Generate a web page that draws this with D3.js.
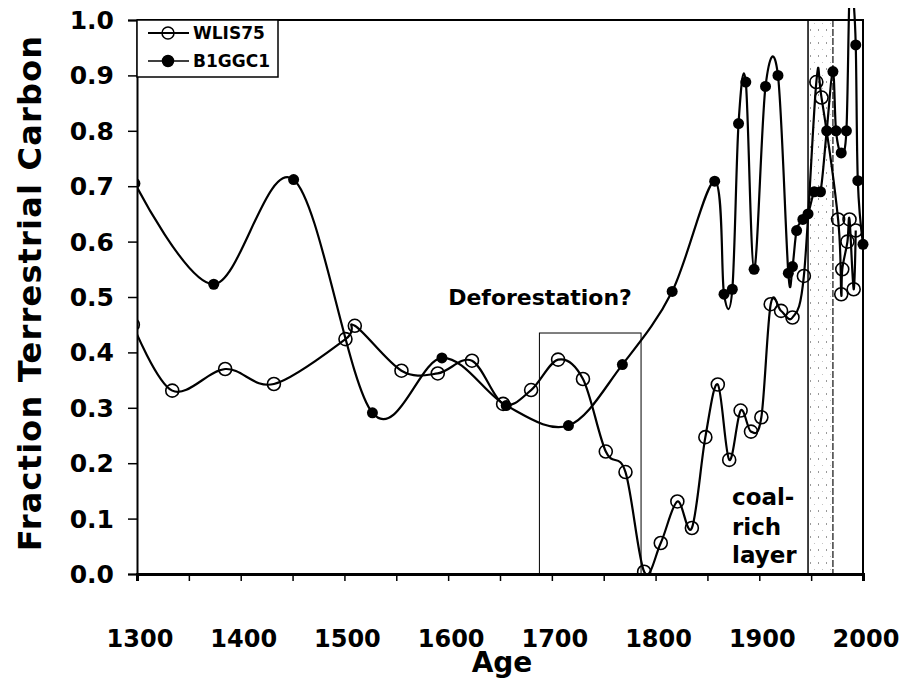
<!DOCTYPE html>
<html>
<head>
<meta charset="utf-8">
<script src="https://cdn.jsdelivr.net/npm/d3@7/dist/d3.min.js"></script>
<style>
  html, body { margin: 0; padding: 0; background: #fff; }
  svg text { font-family: "DejaVu Sans", Verdana, sans-serif; font-weight: bold; fill: #000; }
</style>
</head>
<body>
<svg id="chart" width="906" height="679"></svg>
<script>
// Core WLIS75 (open circles): age and fraction of terrestrial carbon
const wlisYears = [1296, 1334, 1385, 1432, 1501, 1510, 1555, 1590, 1623, 1653, 1680, 1706, 1730, 1752, 1771, 1789,
  1805, 1821, 1835, 1848, 1860, 1871, 1882, 1892, 1902, 1911, 1921, 1932, 1943, 1955, 1960, 1976, 1979,
  1980, 1985, 1987, 1991, 1993];
const wlisValues = [0.45, 0.331, 0.37, 0.343, 0.424, 0.448, 0.367, 0.362, 0.385, 0.307, 0.332, 0.387, 0.352, 0.221, 0.184, 0.004,
  0.056, 0.131, 0.083, 0.247, 0.342, 0.206, 0.295, 0.257, 0.283, 0.487, 0.475, 0.463, 0.538, 0.888, 0.86, 0.64, 0.505,
  0.55, 0.60, 0.64, 0.514, 0.62];

// Core B1GGC1 (filled circles)
const bYears = [1298, 1374, 1451, 1527, 1594, 1656, 1716, 1768, 1816, 1857, 1866, 1874, 1880, 1887, 1895, 1906,
  1918, 1928, 1932, 1936, 1942, 1947, 1953, 1959, 1965, 1971, 1974, 1979, 1984, 1987, 1990, 1993, 1995, 2000];
const bValues = [0.705, 0.523, 0.712, 0.291, 0.39, 0.304, 0.268, 0.378, 0.51, 0.709, 0.505, 0.514, 0.813, 0.888, 0.55, 0.88,
  0.90, 0.543, 0.555, 0.62, 0.64, 0.65, 0.69, 0.69, 0.80, 0.907, 0.80, 0.76, 0.80, 1.05, 1.05, 0.955, 0.71, 0.595];

const xTicks = [1300, 1400, 1500, 1600, 1700, 1800, 1900, 2000];
const yTicks = [0, 0.1, 0.2, 0.3, 0.4, 0.5, 0.6, 0.7, 0.8, 0.9, 1.0];

// Annotated spans
const deforestSpan = [1688, 1786];
const deforestTop = 0.435;
const coalSpan = [1947, 1971];

const svg = d3.select("#chart");
const plotL = 137, plotR = 863, plotT = 20, plotB = 574;

const x = d3.scaleLinear().domain([1300, 2000]).range([plotL, plotR]);
const y = d3.scaleLinear().domain([0, 1]).range([plotB, plotT]);

const defs = svg.append("defs");
defs.append("clipPath").attr("id", "plotClip")
  .append("rect").attr("x", plotL).attr("y", 8).attr("width", plotR - plotL + 6).attr("height", plotB - 8);
const pat = defs.append("pattern").attr("id", "stipple").attr("patternUnits", "userSpaceOnUse")
  .attr("width", 8).attr("height", 13);
pat.append("rect").attr("x", 2).attr("y", 3).attr("width", 1).attr("height", 2).attr("fill", "#9a9a9a");
pat.append("rect").attr("x", 6).attr("y", 10).attr("width", 1).attr("height", 1).attr("fill", "#c4c4c4");

// Coal-rich layer band
svg.append("rect")
  .attr("x", x(coalSpan[0])).attr("y", plotT)
  .attr("width", x(coalSpan[1]) - x(coalSpan[0])).attr("height", plotB - plotT)
  .attr("fill", "url(#stipple)");
svg.append("line").attr("x1", x(coalSpan[0])).attr("x2", x(coalSpan[0]))
  .attr("y1", plotT).attr("y2", plotB).attr("stroke", "#000").attr("stroke-width", 1.5);
svg.append("line").attr("x1", x(coalSpan[1])).attr("x2", x(coalSpan[1]))
  .attr("y1", plotT).attr("y2", plotB).attr("stroke", "#222").attr("stroke-width", 1.3)
  .attr("stroke-dasharray", "7,2");

// Deforestation box
svg.append("rect")
  .attr("x", x(deforestSpan[0])).attr("y", y(deforestTop))
  .attr("width", x(deforestSpan[1]) - x(deforestSpan[0])).attr("height", y(0) - y(deforestTop))
  .attr("fill", "none").attr("stroke", "#000").attr("stroke-width", 1);

// Plot frame (top and right)
svg.append("path")
  .attr("d", `M${plotL},${plotT}H${plotR}V${plotB}`)
  .attr("fill", "none").attr("stroke", "#000").attr("stroke-width", 2);

// Series
const plot = svg.append("g").attr("clip-path", "url(#plotClip)");
const line = d3.line().x(d => x(d[0])).y(d => y(d[1])).curve(d3.curveCatmullRom.alpha(0));

const wlis = wlisYears.map((yr, i) => [yr, wlisValues[i]]);
const bgg = bYears.map((yr, i) => [yr, bValues[i]]);

plot.append("path").datum(bgg).attr("d", line)
  .attr("fill", "none").attr("stroke", "#000").attr("stroke-width", 2.2);
plot.append("path").datum(wlis).attr("d", line)
  .attr("fill", "none").attr("stroke", "#000").attr("stroke-width", 2.2);

plot.selectAll("circle.b").data(bgg).join("circle").attr("class", "b")
  .attr("cx", d => x(d[0])).attr("cy", d => y(d[1])).attr("r", 5.5)
  .attr("fill", "#000");
plot.selectAll("circle.w").data(wlis).join("circle").attr("class", "w")
  .attr("cx", d => x(d[0])).attr("cy", d => y(d[1])).attr("r", 6.5)
  .attr("fill", "none").attr("stroke", "#000").attr("stroke-width", 1.6);

// Axes
const xAxis = d3.axisBottom(x).tickValues(d3.range(1300, 2001, 50)).tickSize(7).tickFormat("");
const gx = svg.append("g").attr("transform", `translate(0,${plotB})`).call(xAxis);
gx.select(".domain").attr("stroke-width", 3);
gx.selectAll(".tick line").attr("stroke-width", 1.5);
svg.append("g").selectAll("text").data(xTicks).join("text")
  .attr("x", d => x(d) + 3).attr("y", 647)
  .attr("text-anchor", "middle").style("font-size", "24px").text(d => d);

const yAxis = d3.axisLeft(y).tickValues(yTicks).tickSize(9).tickFormat("");
const gy = svg.append("g").attr("transform", `translate(${plotL},0)`).call(yAxis);
gy.select(".domain").attr("stroke-width", 2);
gy.selectAll(".tick line").attr("stroke-width", 1.5);
svg.append("g").selectAll("text").data(yTicks).join("text")
  .attr("x", 114).attr("y", d => y(d) + 9)
  .attr("text-anchor", "end").style("font-size", "25px").text(d => d.toFixed(1));

// Axis titles
svg.append("text").attr("x", 502).attr("y", 672).attr("text-anchor", "middle")
  .style("font-size", "28px").text("Age");
svg.append("text").attr("transform", "translate(41,293) rotate(-90)").attr("text-anchor", "middle")
  .style("font-size", "32px").style("letter-spacing", "1.2px").text("Fraction Terrestrial Carbon");

// Annotations
svg.append("text").attr("x", 540).attr("y", 305).attr("text-anchor", "middle")
  .style("font-size", "22px").text("Deforestation?");
const coal = svg.append("text").style("font-size", "23px");
[["coal-", 505], ["rich", 535], ["layer", 563]].forEach(([t, yy]) =>
  coal.append("tspan").attr("x", 732).attr("y", yy).text(t));

// Legend
const lg = svg.append("g");
lg.append("rect").attr("x", 137).attr("y", plotT).attr("width", 141).attr("height", 57)
  .attr("fill", "#fff").attr("stroke", "#000").attr("stroke-width", 1.5);
const legendItems = [
  { name: "WLIS75", open: true, yy: 33 },
  { name: "B1GGC1", open: false, yy: 61 }
];
legendItems.forEach(it => {
  lg.append("line").attr("x1", 148).attr("x2", 189).attr("y1", it.yy).attr("y2", it.yy)
    .attr("stroke", "#000").attr("stroke-width", it.open ? 2 : 1.6);
  lg.append("circle").attr("cx", 168).attr("cy", it.yy).attr("r", it.open ? 6 : 5.5)
    .attr("fill", it.open ? "none" : "#000").attr("stroke", "#000").attr("stroke-width", 1.5);
  lg.append("text").attr("x", 193).attr("y", it.yy + 6).style("font-size", "17px").text(it.name);
});
</script>
</body>
</html>
